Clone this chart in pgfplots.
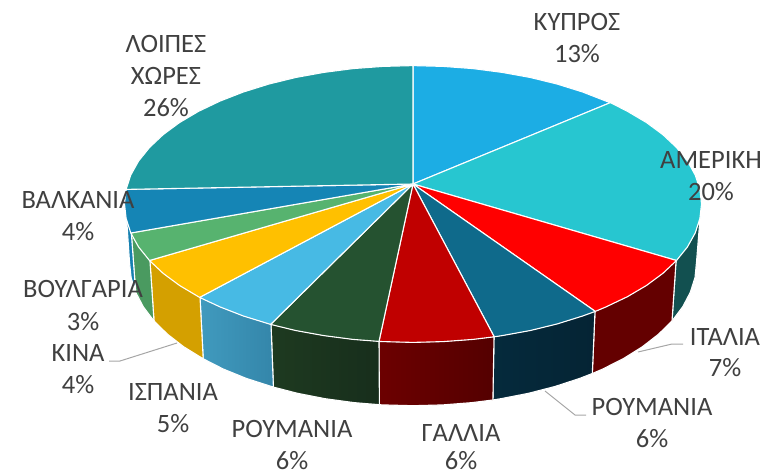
\documentclass[border=0pt]{standalone}
\usepackage{pgfplots}
\usepackage{fontspec}
\pgfplotsset{compat=1.18}
\setmainfont{Carlito}
\definecolor{lab}{HTML}{404040}
\definecolor{lead}{HTML}{A6A6A6}
\pgfplotsset{slice/.style={draw=white,line width=1.1pt,line join=round,mark=none,solid}}
\tikzset{lbl/.style={text=lab,font=\fontsize{26.5}{31}\selectfont,inner sep=0pt,anchor=center}}
\begin{document}
\begin{tikzpicture}
\path[use as bounding box] (0,0) rectangle (773pt,476pt);
\begin{axis}[at={(0,0)},anchor=south west,scale only axis,width=773pt,height=476pt,
  xmin=0,xmax=773,ymin=0,ymax=476,y dir=reverse,hide axis,clip=false]
% side walls
\addplot[slice,fill={rgb,255:red,18;green,80;blue,80}] coordinates {(700,218.4)(696.5,262)(695,277.5)(690.3,292.3)(682.7,306.8)(672,321)(676.1,260.1)(686.9,246.6)(694.7,232.7)(700,218.4)};
\addplot[slice,fill={rgb,255:red,100;green,0;blue,0}] coordinates {(672,321)(658.5,334.2)(642.4,346.7)(623.7,358.4)(602.8,369)(592.3,373.5)(595,311)(605.7,306.5)(627,296.3)(646,285.1)(662.4,273)(676.1,260.1)(672,321)};
\addplot[slice,left color={rgb,255:red,5;green,42;blue,60},right color={rgb,255:red,5;green,36;blue,52}] coordinates {(592.3,373.5)(579.7,378.4)(554.9,386.5)(528.5,393.3)(500.8,398.7)(492.9,400)(494,336.4)(502,335.2)(530.1,330.1)(557,323.5)(582.3,315.6)(595,311)(592.3,373.5)};
\addplot[slice,left color={rgb,255:red,108;green,0;blue,0},right color={rgb,255:red,84;green,0;blue,0}] coordinates {(492.9,400)(472,402.6)(442.8,404.9)(413,405.7)(383.2,404.9)(379.4,404.7)(379,341)(382.9,341.2)(413,342)(443.1,341.2)(472.9,339)(494,336.4)(492.9,400)};
\addplot[slice,left color={rgb,255:red,30;green,58;blue,32},right color={rgb,255:red,23;green,46;blue,28}] coordinates {(379.4,404.7)(354,402.6)(325.2,398.7)(297.5,393.3)(273.4,387.1)(271,324)(295.9,330.1)(324,335.2)(353.1,339)(379,341)(379.4,404.7)};
\addplot[slice,left color={rgb,255:red,64;green,154;blue,190},right color={rgb,255:red,52;green,134;blue,170}] coordinates {(273.4,387.1)(246.3,378.4)(223.2,369)(203.2,358.8)(200,297)(220.3,306.5)(243.7,315.6)(271,324)(273.4,387.1)};
\addplot[slice,fill={rgb,255:red,212;green,160;blue,0}] coordinates {(203.2,358.8)(183.6,346.7)(167.5,334.2)(154,321)(149.9,260.1)(163.6,273)(180,285.1)(200,297)(203.2,358.8)};
\addplot[slice,fill={rgb,255:red,74;green,154;blue,96}] coordinates {(154,321)(143.3,306.8)(135.7,292.3)(131.3,232.7)(139.1,246.6)(149.9,260.1)(154,321)};
\addplot[slice,fill={rgb,255:red,22;green,128;blue,176}] coordinates {(135.7,292.3)(131.1,277.5)(129.5,262)(126.6,218.4)(131.3,232.7)(135.7,292.3)};
% top
\addplot[slice,fill={rgb,255:red,28;green,173;blue,228}] coordinates {(413,184)(413,65.6)(443.1,66.4)(473,68.6)(502.2,72.4)(530.4,77.5)(557.3,84.1)(582.6,92)(606,101.1)(610.4,102.6)(413,184)};
\addplot[slice,fill={rgb,255:red,39;green,198;blue,208}] coordinates {(413,184)(610.4,102.6)(627.4,111.3)(646.4,122.5)(662.8,134.6)(676.5,147.5)(687.4,161)(695.2,175)(699.9,189.4)(701.5,204)(699.9,218.4)(695.2,233)(687.4,247)(676.5,260.5)(413,184)};
\addplot[slice,fill={rgb,255:red,255;green,0;blue,0}] coordinates {(413,184)(676.5,260.5)(662.8,273.4)(646.4,285.5)(627.4,296.7)(606,306.9)(595.3,311.4)(413,184)};
\addplot[slice,fill={rgb,255:red,15;green,106;blue,139}] coordinates {(413,184)(595.3,311.4)(582.6,316)(557.3,323.9)(530.4,330.5)(502.2,335.6)(494.2,336.8)(413,184)};
\addplot[slice,fill={rgb,255:red,192;green,0;blue,0}] coordinates {(413,184)(494.2,336.8)(473,339.4)(443.1,341.6)(413,342.4)(382.9,341.6)(379,341.4)(413,184)};
\addplot[slice,fill={rgb,255:red,37;green,82;blue,48}] coordinates {(413,184)(379,341.4)(353,339.4)(323.8,335.6)(295.6,330.5)(270.6,324.4)(413,184)};
\addplot[slice,fill={rgb,255:red,71;green,186;blue,228}] coordinates {(413,184)(270.6,324.4)(243.4,316)(220,306.9)(199.6,297.4)(413,184)};
\addplot[slice,fill={rgb,255:red,255;green,192;blue,0}] coordinates {(413,184)(199.6,297.4)(179.6,285.5)(163.2,273.4)(149.5,260.5)(413,184)};
\addplot[slice,fill={rgb,255:red,87;green,179;blue,111}] coordinates {(413,184)(149.5,260.5)(138.6,247)(130.8,233)(413,184)};
\addplot[slice,fill={rgb,255:red,21;green,133;blue,181}] coordinates {(413,184)(130.8,233)(126.1,218.4)(124.5,204)(126.1,189.4)(413,184)};
\addplot[slice,fill={rgb,255:red,31;green,154;blue,160}] coordinates {(413,184)(126.1,189.4)(130.8,175)(138.6,161)(149.5,147.5)(163.2,134.6)(179.6,122.5)(198.6,111.3)(220,101.1)(243.4,92)(268.7,84.1)(295.6,77.5)(323.8,72.4)(353,68.6)(382.9,66.4)(413,65.6)(413,184)};
% leader lines
\addplot[lead,line width=1pt,mark=none] coordinates {(638,352)(672,344)(683,344)};
\addplot[lead,line width=1pt,mark=none] coordinates {(545,391)(575,415)(586,415)};
\addplot[lead,line width=1pt,mark=none] coordinates {(177,343)(120,361)(109,361)};
% labels
\node[lbl] at (axis cs:577,22) {ΚΥΠΡΟΣ};
\node[lbl] at (axis cs:577,54) {13\%};
\node[lbl] at (axis cs:711,160) {ΑΜΕΡΙΚΗ};
\node[lbl] at (axis cs:711,192) {20\%};
\node[lbl] at (axis cs:725,337) {ΙΤΑΛΙΑ};
\node[lbl] at (axis cs:725,368) {7\%};
\node[lbl] at (axis cs:652,407) {ΡΟΥΜΑΝΙΑ};
\node[lbl] at (axis cs:652,439) {6\%};
\node[lbl] at (axis cs:461,433) {ΓΑΛΛΙΑ};
\node[lbl] at (axis cs:461,461) {6\%};
\node[lbl] at (axis cs:292,429) {ΡΟΥΜΑΝΙΑ};
\node[lbl] at (axis cs:292,461) {6\%};
\node[lbl] at (axis cs:173,392) {ΙΣΠΑΝΙΑ};
\node[lbl] at (axis cs:173,424) {5\%};
\node[lbl] at (axis cs:78,353) {ΚΙΝΑ};
\node[lbl] at (axis cs:78,385) {4\%};
\node[lbl] at (axis cs:83,289) {ΒΟΥΛΓΑΡΙΑ};
\node[lbl] at (axis cs:83,322) {3\%};
\node[lbl] at (axis cs:78,200) {ΒΑΛΚΑΝΙΑ};
\node[lbl] at (axis cs:78,232) {4\%};
\node[lbl] at (axis cs:166,44) {ΛΟΙΠΕΣ};
\node[lbl] at (axis cs:166,76) {ΧΩΡΕΣ};
\node[lbl] at (axis cs:166,108) {26\%};
\end{axis}
\end{tikzpicture}
\end{document}
